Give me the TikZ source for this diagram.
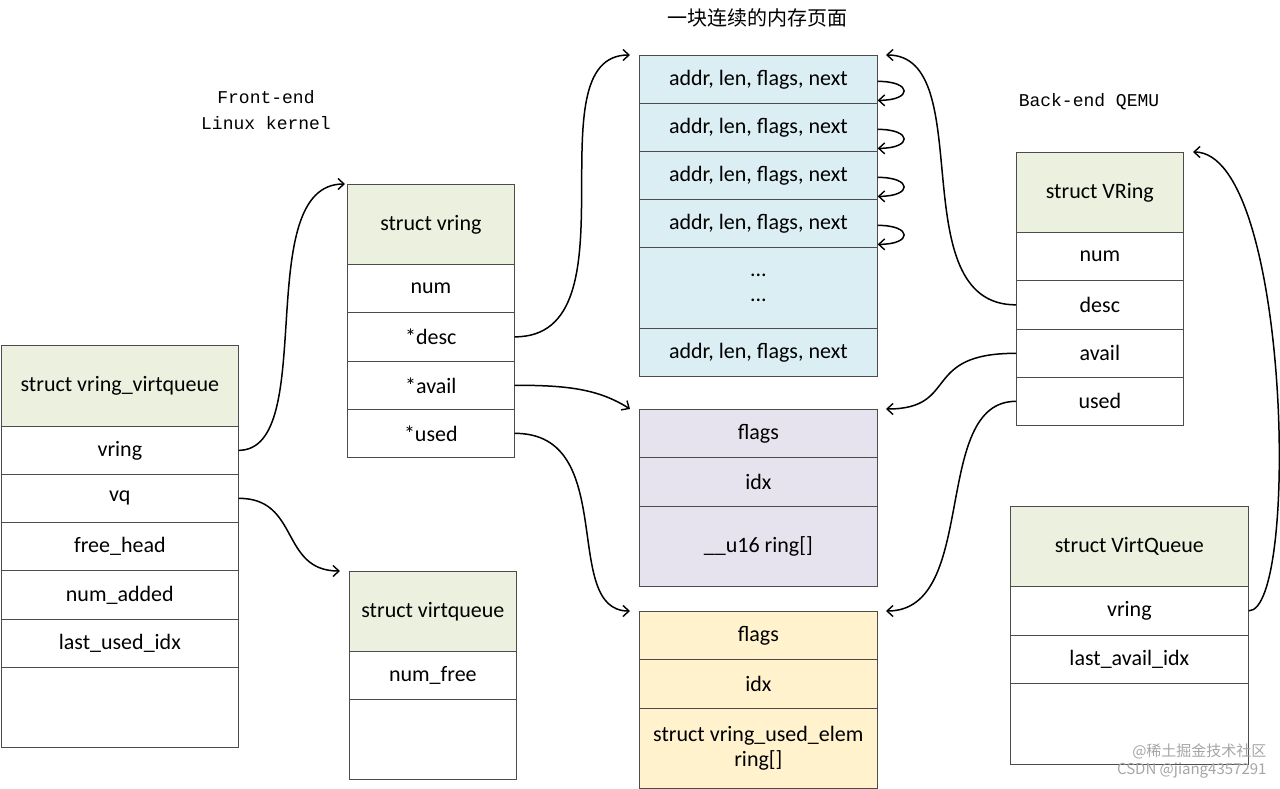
\documentclass[tikz,border=0pt]{standalone}
\usepackage{fontspec}
\setmainfont{Carlito}
\newfontfamily\cjk{Noto Sans CJK SC}
\newfontfamily\mono{Liberation Mono}
\usetikzlibrary{arrows.meta}
\definecolor{hgreen}{HTML}{EBF1DE}
\definecolor{hblue}{HTML}{DAEEF3}
\definecolor{hlav}{HTML}{E6E3EE}
\definecolor{hyel}{HTML}{FFF2CC}
\tikzset{
  cell/.style={draw=black!70, line width=0.7pt, anchor=north west, inner sep=0pt, align=center, font=\fontsize{22}{25}\selectfont},
  conn/.style={line width=1.5pt, -{Straight Barb[length=6pt,width=11pt,line width=1.4pt]}},
}
\newcommand{\cel}[7]{\node[cell, fill=#6, minimum width=#4pt, minimum height=#5pt] (#1) at (#2,#3) {#7};}
\begin{document}
\begin{tikzpicture}[x=1pt,y=-1pt]
\useasboundingbox[fill=white] (0,0) rectangle (1280,789);
% vring_virtqueue
\cel{vvq}{1}{345}{237}{81}{hgreen}{struct vring\_virtqueue}
\cel{vvqa}{1}{426}{237}{48}{white}{vring}
\cel{vvqb}{1}{474}{237}{48}{white}{vq}
\cel{vvqc}{1}{522}{237}{48}{white}{free\_head}
\cel{vvqd}{1}{570}{237}{49}{white}{num\_added}
\cel{vvqe}{1}{619}{237}{48}{white}{last\_used\_idx}
\cel{vvqf}{1}{667}{237}{80}{white}{}
% struct vring
\cel{sv}{347}{184}{167}{80}{hgreen}{struct vring}
\cel{sva}{347}{264}{167}{48}{white}{num}
\cel{svb}{347}{312}{167}{49}{white}{*desc}
\cel{svc}{347}{361}{167}{48}{white}{*avail}
\cel{svd}{347}{409}{167}{48}{white}{*used}
% virtqueue
\cel{vq}{349}{571}{167}{80}{hgreen}{struct virtqueue}
\cel{vqa}{349}{651}{167}{48}{white}{num\_free}
\cel{vqb}{349}{699}{167}{80}{white}{}
% desc
\cel{d1}{639}{55}{238}{48}{hblue}{addr, len, flags, next}
\cel{d2}{639}{103}{238}{48}{hblue}{addr, len, flags, next}
\cel{d3}{639}{151}{238}{48}{hblue}{addr, len, flags, next}
\cel{d4}{639}{199}{238}{48}{hblue}{addr, len, flags, next}
\cel{d5}{639}{247}{238}{81}{hblue}{...\\...}
\cel{d6}{639}{328}{238}{48}{hblue}{addr, len, flags, next}
% avail
\cel{a1}{639}{409}{238}{48}{hlav}{flags}
\cel{a2}{639}{457}{238}{49}{hlav}{idx}
\cel{a3}{639}{506}{238}{80}{hlav}{\_\_u16 ring[]}
% used
\cel{u1}{639}{611}{238}{48}{hyel}{flags}
\cel{u2}{639}{659}{238}{49}{hyel}{idx}
\cel{u3}{639}{708}{238}{80}{hyel}{struct vring\_used\_elem\\ring[]}
% VRing
\cel{vr}{1016}{152}{167}{80}{hgreen}{struct VRing}
\cel{vra}{1016}{232}{167}{48}{white}{num}
\cel{vrb}{1016}{280}{167}{49}{white}{desc}
\cel{vrc}{1016}{329}{167}{48}{white}{avail}
\cel{vrd}{1016}{377}{167}{48}{white}{used}
% VirtQueue
\cel{vt}{1010}{506}{238}{80}{hgreen}{struct VirtQueue}
\cel{vta}{1010}{586}{238}{49}{white}{vring}
\cel{vtb}{1010}{635}{238}{48}{white}{last\_avail\_idx}
\cel{vtc}{1010}{683}{238}{81}{white}{}
% labels
\node[font=\cjk\fontsize{20}{22}\selectfont] (t1) at (757,18) {一块连续的内存页面};
\node[font=\mono\fontsize{18}{26}\selectfont, align=center] (t2) at (266,110) {Front-end\\Linux kernel};
\node[font=\mono\fontsize{18}{22}\selectfont] (t3) at (1089,102) {Back-end QEMU};
\node[font=\cjk\fontsize{15}{18}\selectfont, text=black!35, align=right, anchor=south east] (wm) at (1270,782) {@稀土掘金技术社区\\CSDN @jiang4357291};
% coordinates
\coordinate (p1) at (345,184);
\coordinate (p2) at (340,571);
\coordinate (p3) at (630,55);
\coordinate (p4) at (630,409);
\coordinate (p5) at (630,611);
\coordinate (q3) at (886,55);
\coordinate (q4) at (886,409);
\coordinate (q5) at (886,611);
\coordinate (q6) at (1193,152);
% connectors
\draw[conn] (vvqa.east) .. controls (320,450) and (250,184) .. (p1);
\draw[conn] (vvqb.east) .. controls (300,498) and (280,571) .. (p2);
\draw[conn] (svb.east) .. controls (640,337) and (530,55) .. (p3);
\draw[conn] (svc.east) .. controls (570,385) and (600,390) .. (p4);
\draw[conn] (svd.east) .. controls (620,433) and (560,611) .. (p5);
\draw[conn] (vrb.west) .. controls (900,305) and (980,55) .. (q3);
\draw[conn] (vrc.west) .. controls (920,353) and (960,409) .. (q4);
\draw[conn] (vrd.west) .. controls (930,401) and (980,611) .. (q5);
\draw[conn] (vta.east) .. controls (1300,611) and (1290,152) .. (q6);
\foreach \i/\j in {d1/d2,d2/d3,d3/d4,d4/d5}{
  \draw[conn] ([yshift=-2pt]\i.east) .. controls +(35,0) and +(35,0) .. ([yshift=-21pt]\i.east);
}
\end{tikzpicture}
\end{document}
